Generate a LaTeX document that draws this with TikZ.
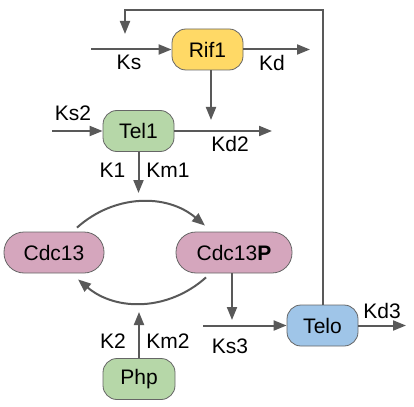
\documentclass[tikz,border=0pt]{standalone}
\usepackage{fontspec}
\setmainfont{Liberation Sans}
\usetikzlibrary{arrows.meta}

\definecolor{linegray}{HTML}{595959}
\definecolor{boxgray}{HTML}{666666}
\definecolor{rifyellow}{HTML}{FFD966}
\definecolor{telgreen}{HTML}{B6D7A8}
\definecolor{cdcpink}{HTML}{D5A6BD}
\definecolor{teloblue}{HTML}{9FC5E8}

\begin{document}
\begin{tikzpicture}[x=1pt,y=-1pt,
  species/.style={draw=boxgray,line width=.8pt,rounded corners=14pt,
    minimum width=71pt,minimum height=41pt,inner sep=0pt,
    font=\fontsize{21}{25}\selectfont},
  rate/.style={inner sep=0pt,font=\fontsize{21}{25}\selectfont},
  flow/.style={draw=linegray,line width=2pt,
    -{Triangle[length=13pt,width=10pt]}}]
\path[use as bounding box] (0,0) rectangle (414,406);

% species
\node[species,fill=rifyellow] (rif) at (207.5,49.5) {Rif1};
\node[species,fill=telgreen] (tel) at (138.5,131) {Tel1};
\node[species,fill=cdcpink,rounded corners=20pt,minimum width=100pt] (cdc) at (54,252.5) {Cdc13};
\node[species,fill=cdcpink,rounded corners=20pt,minimum width=116pt] (cdcp) at (234,252.5) {Cdc13\textbf{P}};
\node[species,fill=teloblue] (telo) at (322.5,325.5) {Telo};
\node[species,fill=telgreen,minimum width=72pt] (php) at (139,379) {Php};

% free ends
\coordinate (ksin) at (91,49.5);
\coordinate (kdout) at (310,49.5);
\coordinate (fbtop) at (125,10);
\coordinate (fbend) at (125,34);
\coordinate (rifdown) at (211,120);
\coordinate (ks2in) at (52,131);
\coordinate (kd2out) at (272,131);
\coordinate (teldown) at (138.5,193);
\coordinate (cdcpdown) at (232,320);
\coordinate (ks3in) at (203,325.5);
\coordinate (kd3out) at (406,325.5);
\coordinate (phpup) at (139,312);

% Rif1
\draw[flow] (ksin) -- (rif);
\draw[flow] (rif) -- (kdout);
\draw[flow] (rif.south -| rifdown) -- (rifdown);
\node[rate] at (129,62) {Ks};
\node[rate] at (272,63) {Kd};

% feedback from Telo
\draw[flow] (telo.north) |- (fbtop) -- (fbend);

% Tel1
\draw[flow] (ks2in) -- (tel);
\draw[flow] (tel) -- (kd2out);
\draw[flow] (tel) -- (teldown);
\node[rate] at (73,113) {Ks2};
\node[rate] at (230,144) {Kd2};
\node[rate] at (112.5,170) {K1};
\node[rate] at (168,170) {Km1};

% Cdc13 cycle
\draw[flow] ([shift={(23pt,4pt)}]cdc.north) to[bend left=41] ([shift={(-29pt,6pt)}]cdcp.north);
\draw[flow] ([shift={(-28pt,-4pt)}]cdcp.south) to[bend left=41] ([shift={(24pt,-6pt)}]cdc.south);
\draw[flow] (cdcp.south -| cdcpdown) -- (cdcpdown);

% Telo
\draw[flow] (ks3in) -- (telo);
\draw[flow] (telo) -- (kd3out);
\node[rate] at (230,346) {Ks3};
\node[rate] at (382,311) {Kd3};

% Php
\draw[flow] (php) -- (phpup);
\node[rate] at (113,341) {K2};
\node[rate] at (168,341) {Km2};
\end{tikzpicture}
\end{document}
